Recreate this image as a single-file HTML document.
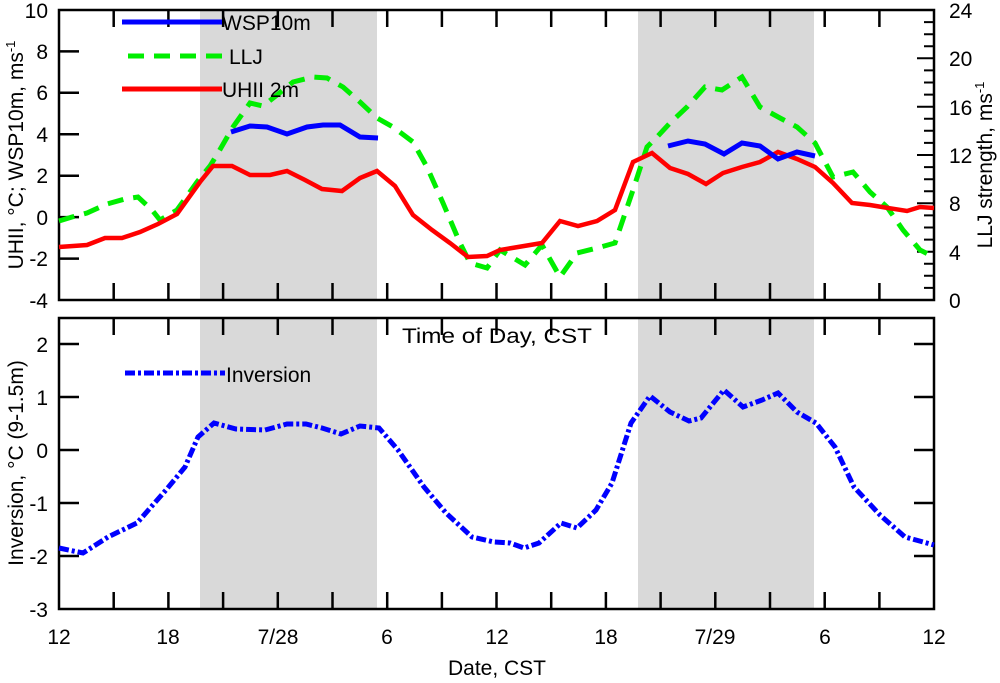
<!DOCTYPE html>
<html><head><meta charset="utf-8"><style>
body{margin:0;background:#fff}
svg{display:block;font-family:"Liberation Sans",sans-serif}
</style></head><body>
<svg width="1000" height="683" viewBox="0 0 1000 683" xmlns="http://www.w3.org/2000/svg">
<rect x="200" y="10" width="177" height="290" fill="#d9d9d9"/>
<rect x="638" y="10" width="176" height="290" fill="#d9d9d9"/>
<rect x="200" y="318" width="177" height="291" fill="#d9d9d9"/>
<rect x="638" y="318" width="176" height="291" fill="#d9d9d9"/>

<g stroke="#000" stroke-width="2.5" fill="none">
<rect x="59" y="10" width="875" height="290"/>
<rect x="59" y="318" width="875" height="291"/>
<path d="M113.7 10v17M168.4 10v17M223.1 10v17M277.8 10v17M332.5 10v17M387.2 10v17M441.9 10v17M496.5 10v17M551.2 10v17M605.9 10v17M660.6 10v17M715.3 10v17M770 10v17M824.7 10v17M879.4 10v17
M113.7 300v-17M168.4 300v-17M223.1 300v-17M277.8 300v-17M332.5 300v-17M387.2 300v-17M441.9 300v-17M496.5 300v-17M551.2 300v-17M605.9 300v-17M660.6 300v-17M715.3 300v-17M770 300v-17M824.7 300v-17M879.4 300v-17
M59 51.4h20M59 92.8h20M59 134.3h20M59 175.7h20M59 217.1h20M59 258.6h20"/>
<path d="M113.7 318v17M168.4 318v17M223.1 318v17M277.8 318v17M332.5 318v17M387.2 318v17M441.9 318v17M496.5 318v17M551.2 318v17M605.9 318v17M660.6 318v17M715.3 318v17M770 318v17M824.7 318v17M879.4 318v17
M113.7 609v-17M168.4 609v-17M223.1 609v-17M277.8 609v-17M332.5 609v-17M387.2 609v-17M441.9 609v-17M496.5 609v-17M551.2 609v-17M605.9 609v-17M660.6 609v-17M715.3 609v-17M770 609v-17M824.7 609v-17M879.4 609v-17
M59 344h20M59 397h20M59 450h20M59 503h20M59 556h20M934 344h-20M934 397h-20M934 450h-20M934 503h-20M934 556h-20"/>
<path stroke-width="2" d="M934 22.1h-10M934 34.2h-10M934 46.2h-10M934 70.4h-10M934 82.5h-10M934 94.6h-10M934 118.7h-10M934 130.8h-10M934 142.9h-10M934 167.1h-10M934 179.2h-10M934 191.3h-10M934 215.4h-10M934 227.5h-10M934 239.6h-10M934 263.8h-10M934 275.8h-10M934 287.9h-10
M934 58.3h-17M934 106.7h-17M934 155h-17M934 203.3h-17M934 251.7h-17"/>
</g>

<polyline fill="none" stroke="#00ee00" stroke-width="5" stroke-dasharray="16,10" points="59,221 72,217 87,213 107,204 125,199 138,197 152,210 160,220 177,210 197,182 210,166 218,153 233,127 250,103 263,106 277,95 293,82 313,77 327,78 343,87 360,102 377,118 393,127 413,142 427,167 443,203 460,243 470,263 487,268 500,250 525,265 542,245 560,277 577,253 597,248 615,243 633,190 647,147 657,137 670,123 687,107 705,87 722,90 742,77 760,107 780,118 797,127 815,143 833,177 853,172 870,192 887,207 903,230 920,250 934,257"/>
<polyline fill="none" stroke="#ff0000" stroke-width="4.5" points="59,247 87,245 105,238 122,238 140,232 158,224 177,214 200,182 213,166 232,166 250,175 270,175 287,171 305,180 322,189 342,191 360,178 377,171 395,186 413,215 432,230 450,243 468,257 487,256 500,250 542,243 560,221 578,226 597,221 615,210 633,162 652,153 670,168 688,174 706,184 723,173 742,167 760,162 778,152 797,159 815,167 833,183 852,203 870,205 888,208 907,211 920,207 934,208"/>
<polyline fill="none" stroke="#0000ff" stroke-width="5" points="231,132 250,126 267,127 287,134 307,127 323,125 340,125 360,137 378,138"/>
<polyline fill="none" stroke="#0000ff" stroke-width="5" points="668,146 688,141 705,144 724,154 742,143 760,146 778,159 797,152 815,156"/>

<line x1="122" y1="22" x2="222" y2="22" stroke="#0000ff" stroke-width="5"/>
<line x1="128" y1="56" x2="228" y2="56" stroke="#00ee00" stroke-width="5" stroke-dasharray="16,10"/>
<line x1="122" y1="89" x2="222" y2="89" stroke="#ff0000" stroke-width="5"/>
<g font-size="21" fill="#000">
<text x="222" y="30">WSP10m</text>
<text x="229" y="64">LLJ</text>
<text x="222" y="97">UHII 2m</text>
</g>

<polyline fill="none" stroke="#0000ff" stroke-width="5" stroke-dasharray="10,3,3,3" points="59,548 83,553 108,537 137,523 166,490 185,467 198,437 214,423 236,429 265,430 287,424 306,424 322,428 341,434 360,426 379,428 398,450 424,487 446,513 472,537 494,542 510,543 524,548 539,543 561,523 577,528 596,510 612,483 631,423 650,396 670,412 689,421 701,418 724,390 743,407 762,400 778,393 797,412 816,423 835,447 854,487 880,515 905,537 934,545"/>
<line x1="125" y1="373" x2="225" y2="373" stroke="#0000ff" stroke-width="5" stroke-dasharray="10,3,3,3"/>
<text x="226" y="382" font-size="21">Inversion</text>
<text x="497" y="343" font-size="21" text-anchor="middle" textLength="190" lengthAdjust="spacingAndGlyphs">Time of Day, CST</text>

<g font-size="21" text-anchor="end">
<text x="48" y="18">10</text><text x="48" y="59">8</text><text x="48" y="100">6</text><text x="48" y="142">4</text><text x="48" y="183">2</text><text x="48" y="225">0</text><text x="48" y="266">-2</text><text x="48" y="308">-4</text>
<text x="48" y="352">2</text><text x="48" y="405">1</text><text x="48" y="458">0</text><text x="48" y="511">-1</text><text x="48" y="564">-2</text><text x="48" y="617">-3</text>
</g>
<g font-size="21">
<text x="949" y="18">24</text><text x="949" y="66">20</text><text x="949" y="115">16</text><text x="949" y="163">12</text><text x="949" y="211">8</text><text x="949" y="260">4</text><text x="949" y="308">0</text>
</g>
<g font-size="21" text-anchor="middle">
<text x="59" y="644">12</text><text x="168" y="644">18</text><text x="278" y="644">7/28</text><text x="387" y="644">6</text><text x="497" y="644">12</text><text x="606" y="644">18</text><text x="715" y="644">7/29</text><text x="825" y="644">6</text><text x="934" y="644">12</text>
<text x="497" y="675">Date, CST</text>
</g>
<text transform="translate(23,155) rotate(-90)" font-size="21" text-anchor="middle">UHII, °C; WSP10m, ms<tspan dy="-8" font-size="13">-1</tspan></text>
<text transform="translate(992,165) rotate(-90)" font-size="21" text-anchor="middle">LLJ strength, ms<tspan dy="-8" font-size="13">-1</tspan></text>
<text transform="translate(23,463) rotate(-90)" font-size="21" text-anchor="middle">Inversion, °C (9-1.5m)</text>
</svg>
</body></html>
